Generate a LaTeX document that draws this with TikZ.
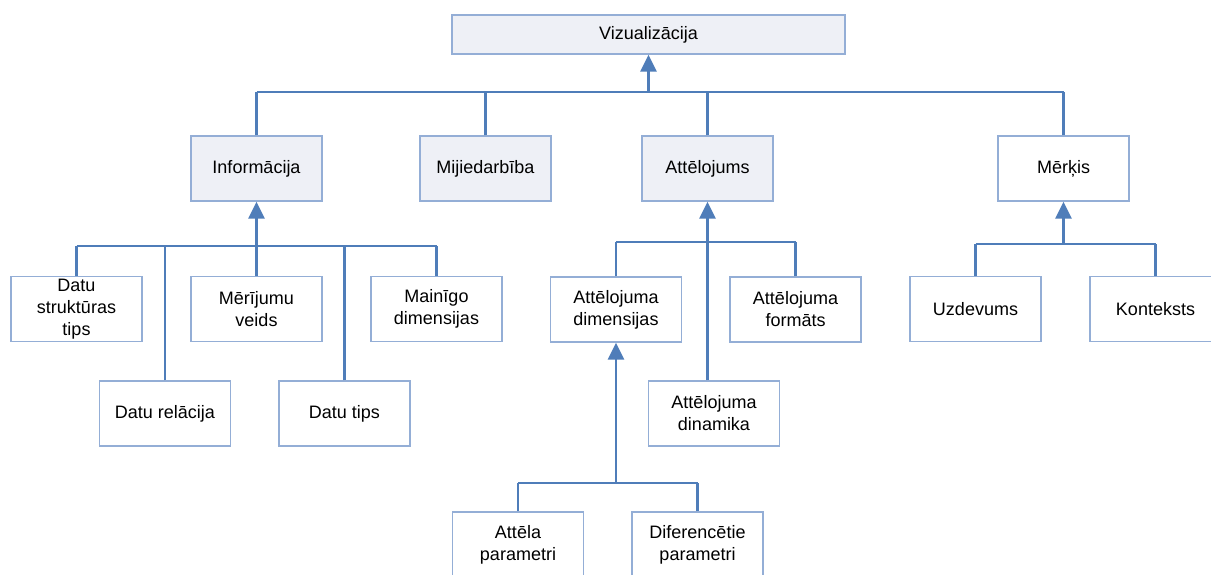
\documentclass[tikz,border=0pt]{standalone}
\usepackage{fontspec}
\setmainfont{Liberation Sans}
\usetikzlibrary{arrows.meta}
\definecolor{linkblue}{HTML}{4F7DB9}
\definecolor{boxborder}{HTML}{94AED6}
\definecolor{boxfill}{HTML}{EEF0F6}
\tikzset{
  box/.style={draw=boxborder, line width=1.3pt, minimum width=131pt, minimum height=65pt,
    inner sep=0pt, align=center, font=\fontsize{18}{22}\selectfont, text=black},
  fbox/.style={box, fill=boxfill},
  link/.style={draw=linkblue, line width=2.8pt},
  uparrow/.style={link, -{Triangle[length=17pt,width=16pt]}},
}
\begin{document}
\begin{tikzpicture}[x=1pt,y=-1pt]
\useasboundingbox (0,0) rectangle (1211,574);
\clip (0,0) rectangle (1211,574);
% nodes
\node[fbox, minimum width=393pt, minimum height=39pt] (viz) at (648.5,34.5) {Vizualizācija};
\node[fbox] (info) at (256.5,168.5) {Informācija};
\node[fbox] (miji) at (485.5,168.5) {Mijiedarbība};
\node[fbox] (attel) at (707.5,168.5) {Attēlojums};
\node[box] (merk) at (1063.5,168.5) {Mērķis};
\node[box] (dst) at (76.5,309) {Datu\\struktūras\\tips};
\node[box] (mer) at (256.5,309) {Mērījumu\\veids};
\node[box] (main) at (436.5,309) {Mainīgo\\dimensijas};
\node[box] (drel) at (165,413.5) {Datu relācija};
\node[box] (dtips) at (344.5,413.5) {Datu tips};
\node[box] (adim) at (616,309.5) {Attēlojuma\\dimensijas};
\node[box] (aform) at (795.5,309.5) {Attēlojuma\\formāts};
\node[box] (adin) at (714,413.5) {Attēlojuma\\dinamika};
\node[box] (apar) at (518,544.5) {Attēla\\parametri};
\node[box] (dpar) at (697.5,544.5) {Diferencētie\\parametri};
\node[box] (uzd) at (975.5,309) {Uzdevums};
\node[box] (kont) at (1155.5,309) {Konteksts};
% bar levels
\coordinate (b0) at (0,92);
\coordinate (b1) at (0,246);
\coordinate (b2) at (0,242);
\coordinate (b3) at (0,244);
\coordinate (b4) at (0,483);
% top group
\draw[link] (info.north |- b0) -- (merk.north |- b0);
\foreach \n in {info,miji,attel,merk} \draw[link] (\n.north) -- (\n.north |- b0);
\draw[uparrow] (viz.south |- b0) -- (viz.south);
% Informacija group
\draw[link] (dst.north |- b1) -- (main.north |- b1);
\foreach \n in {dst,mer,main,drel,dtips} \draw[link] (\n.north) -- (\n.north |- b1);
\draw[uparrow] (info.south |- b1) -- (info.south);
% Attelojums group
\draw[link] (adim.north |- b2) -- (aform.north |- b2);
\foreach \n in {adim,aform} \draw[link] (\n.north) -- (\n.north |- b2);
\draw[link] (attel.south |- adin.north) -- (attel.south |- b2);
\draw[uparrow] (attel.south |- b2) -- (attel.south);
% Attelojuma dimensijas group
\draw[link] (apar.north |- b4) -- (dpar.north |- b4);
\foreach \n in {apar,dpar} \draw[link] (\n.north) -- (\n.north |- b4);
\draw[uparrow] (adim.south |- b4) -- (adim.south);
% Merkis group
\draw[link] (uzd.north |- b3) -- (kont.north |- b3);
\foreach \n in {uzd,kont} \draw[link] (\n.north) -- (\n.north |- b3);
\draw[uparrow] (merk.south |- b3) -- (merk.south);
\end{tikzpicture}
\end{document}
